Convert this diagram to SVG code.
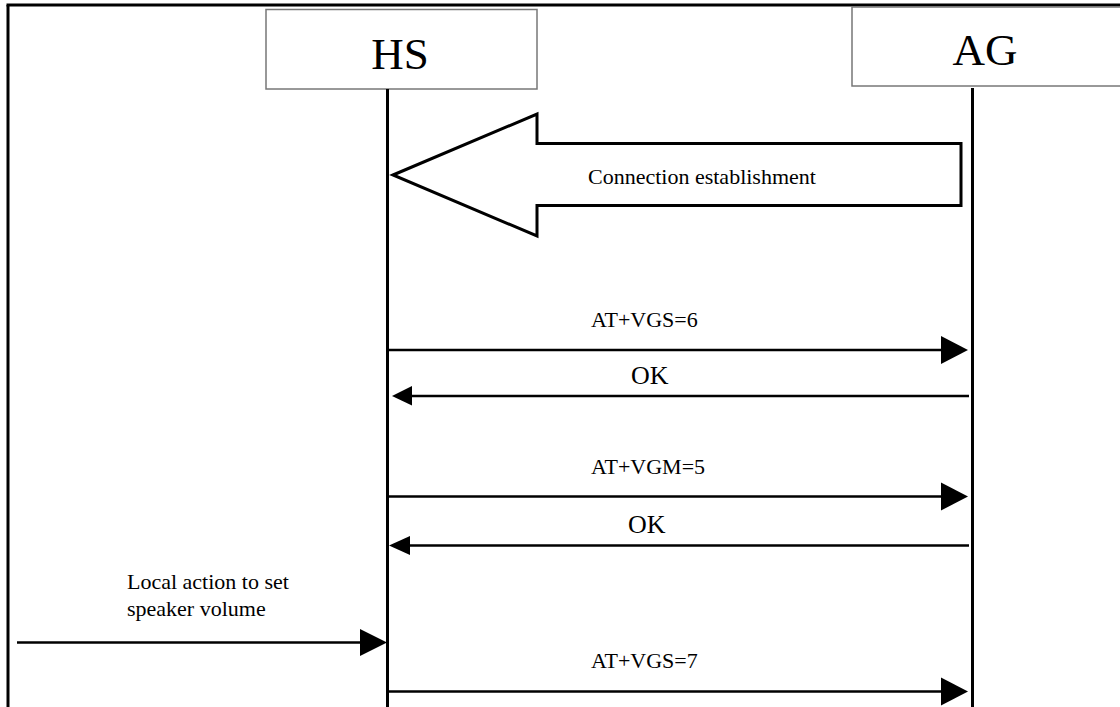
<svg xmlns="http://www.w3.org/2000/svg" width="1120" height="707" viewBox="0 0 1120 707">
<defs>
<style>
.frame{stroke:#000;stroke-width:3;fill:none}
.box{fill:#fff;stroke:#777;stroke-width:1.5}
.life{stroke:#000;stroke-width:3;fill:none}
.msg{stroke:#000;stroke-width:2.5;fill:none}
.head{fill:#000;stroke:none}
.t{font-family:"Liberation Serif","Times New Roman",serif;fill:#000}
.big{font-size:45px}
.lbl{font-size:22px}
.ok{font-size:26px}
</style>
</defs>
<rect width="1120" height="707" fill="#fff"/>
<g id="frame">
<line class="frame" x1="8" y1="5" x2="8" y2="707"/>
<line class="frame" x1="6.5" y1="5" x2="1120" y2="5"/>
</g>
<g id="HS">
<rect class="box" x="266" y="9.5" width="271" height="79.5"/>
<text class="t big" x="400" y="69" text-anchor="middle">HS</text>
<line class="life" x1="387.5" y1="89" x2="387.5" y2="707"/>
</g>
<g id="AG">
<rect class="box" x="852" y="7" width="275" height="79"/>
<text class="t big" x="985" y="65" text-anchor="middle">AG</text>
<line class="life" x1="972.5" y1="88" x2="972.5" y2="707"/>
</g>
<g id="connection-establishment">
<polygon points="393,175 537,114 537,143.5 961,143.5 961,205.5 537,205.5 537,236" fill="#fff" stroke="#000" stroke-width="3" stroke-linejoin="miter"/>
<text class="t lbl" x="588" y="184">Connection establishment</text>
</g>
<g id="connectors">
<line class="msg" x1="387.5" y1="350" x2="942" y2="350"/>
<polygon class="head" points="941,336 968,350 941,364"/>
<line class="msg" x1="969" y1="396" x2="410" y2="396"/>
<polygon class="head" points="412,386 392,396 412,405.5"/>
<line class="msg" x1="387.5" y1="496.5" x2="942" y2="496.5"/>
<polygon class="head" points="941,482.5 968,496.5 941,510.5"/>
<line class="msg" x1="969" y1="545.5" x2="408" y2="545.5"/>
<polygon class="head" points="410,536 389,545.5 410,555"/>
<line class="msg" x1="17" y1="642.5" x2="362" y2="642.5" stroke-width="3"/>
<polygon class="head" points="360,629 387,642.5 360,656"/>
<line class="msg" x1="387.5" y1="691.5" x2="942" y2="691.5"/>
<polygon class="head" points="941,677.5 968,691.5 941,705.5"/>
</g>
<g id="labels">
<text class="t lbl" x="591" y="327">AT+VGS=6</text>
<text class="t ok" x="631" y="384">OK</text>
<text class="t lbl" x="591" y="474">AT+VGM=5</text>
<text class="t ok" x="628" y="532.5">OK</text>
<text class="t lbl" x="127" y="589">Local action to set</text>
<text class="t lbl" x="127" y="616">speaker volume</text>
<text class="t lbl" x="591" y="668">AT+VGS=7</text>
</g>
</svg>
